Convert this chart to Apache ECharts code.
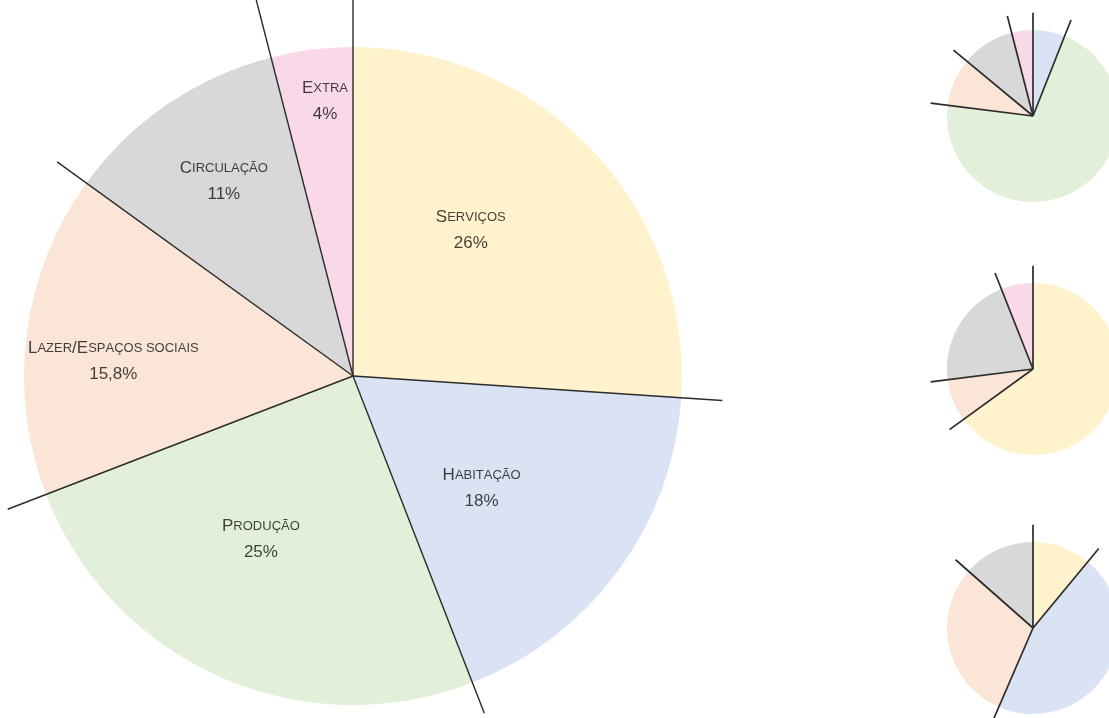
<!DOCTYPE html>
<html>
<head>
<meta charset="utf-8">
<script src="https://cdn.jsdelivr.net/npm/echarts@6/dist/echarts.min.js"></script>
<style>
  html, body { margin: 0; padding: 0; background: #ffffff; }
  #chart { width: 1109px; height: 718px; }
</style>
</head>
<body>
<div id="chart"></div>
<script>
// ---- data ----
const categories = ['Serviços', 'Habitação', 'Produção', 'Lazer/Espaços sociais', 'Circulação', 'Extra'];
const mainValues = [26, 18, 25, 15.8, 11, 4];
const small1Values = [0, 6, 71, 9, 10, 4];
const small2Values = [65, 0, 0, 8, 21, 6];
const small3Values = [11, 45.5, 0, 30, 13.5, 0];

// ---- styles / layout ----
const sliceColors = ['#fff2cc', '#dae3f3', '#e2f0d9', '#fbe5d6', '#d8d8d8', '#f9d8ea'];
const pies = [
  { values: mainValues,   center: [353, 376],  radius: 329, lineExt: [1.145, 1.125, 1.1, 1.125, 1.11, 1.18], lineWidth: 1.4, labels: true },
  { values: small1Values, center: [1033, 116], radius: 86,  lineExt: 1.2, lineWidth: 1.7 },
  { values: small2Values, center: [1033, 369], radius: 86,  lineExt: 1.2, lineWidth: 1.7 },
  { values: small3Values, center: [1033, 628], radius: 86,  lineExt: 1.2, lineWidth: 1.7 }
];
// label placement for main pie: radius factor & angular nudge (degrees) from slice middle
const labelRadius = [0.57, 0.52, 0.57, 0.73, 0.71, 0.84];
const labelAngleShift = [-8, 5, 5.6, -3.8, 0.7, 1.4];

function smallCaps(str) {
  let out = '';
  for (const ch of str) {
    if (ch === ' ') { out += '{s| }'; continue; }
    const isLower = ch !== ch.toUpperCase();
    out += isLower ? '{s|' + ch.toUpperCase() + '}' : '{c|' + ch + '}';
  }
  return out;
}
function pctText(v) { return String(v).replace('.', ',') + '%'; }

const polar = [], radiusAxis = [], angleAxis = [], series = [];
const MAXR = 1.25;
const FONT = 'Liberation Sans, Arial, sans-serif';
const TXT = '#111111';

pies.forEach((pie, pi) => {
  const items = [];
  pie.values.forEach((v, i) => { if (v > 0) items.push({ name: categories[i], value: v, idx: i }); });
  const total = items.reduce((a, b) => a + b.value, 0);

  polar.push({ center: pie.center, radius: pie.radius * MAXR });
  radiusAxis.push({ polarIndex: pi, min: 0, max: MAXR, show: false });
  angleAxis.push({ polarIndex: pi, min: 0, max: total, startAngle: 90, clockwise: true, show: false });

  series.push({
    type: 'pie',
    center: pie.center,
    radius: [0, pie.radius],
    startAngle: 90,
    clockwise: true,
    silent: true,
    animation: false,
    label: { show: false },
    labelLine: { show: false },
    emphasis: { disabled: true },
    itemStyle: { borderWidth: 0 },
    data: items.map(it => ({ name: it.name, value: it.value, itemStyle: { color: sliceColors[it.idx] } }))
  });

  // boundary lines
  const bounds = [];
  let cum = 0;
  items.forEach((it, j) => {
    const ext = Array.isArray(pie.lineExt) ? pie.lineExt[j] : pie.lineExt;
    bounds.push([ext, cum]);
    cum += it.value;
  });
  series.push({
    type: 'custom',
    coordinateSystem: 'polar',
    polarIndex: pi,
    silent: true,
    animation: false,
    clip: false,
    z: 5,
    encode: { radius: 0, angle: 1 },
    data: bounds,
    renderItem: function (params, api) {
      const a = api.value(1);
      const p0 = api.coord([0, a]);
      const p1 = api.coord([api.value(0), a]);
      return {
        type: 'line',
        shape: { x1: p0[0], y1: p0[1], x2: p1[0], y2: p1[1] },
        style: { stroke: '#2b2b2b', lineWidth: pie.lineWidth }
      };
    }
  });

  if (pie.labels) {
    let c2 = 0;
    const labelData = items.map((it, j) => {
      const mid = c2 + it.value / 2;
      c2 += it.value;
      const ang = mid + labelAngleShift[j] / 360 * total;
      return {
        value: [labelRadius[j], ang],
        label: { formatter: smallCaps(it.name) + '\n{p|' + pctText(it.value) + '}' }
      };
    });
    series.push({
      type: 'scatter',
      coordinateSystem: 'polar',
      polarIndex: pi,
      silent: true,
      animation: false,
      z: 6,
      symbol: 'circle',
      symbolSize: 1,
      itemStyle: { color: 'rgba(0,0,0,0)' },
      encode: { radius: 0, angle: 1 },
      data: labelData,
      label: {
        show: true,
        position: 'inside',
        align: 'center',
        verticalAlign: 'middle',
        color: TXT,
        fontFamily: FONT,
        lineHeight: 26,
        rich: {
          c: { fontSize: 17, color: TXT, fontFamily: FONT, lineHeight: 26 },
          s: { fontSize: 13, color: TXT, fontFamily: FONT, lineHeight: 26 },
          p: { fontSize: 17, color: TXT, fontFamily: FONT, lineHeight: 26 }
        }
      }
    });
  }
});

const chart = echarts.init(document.getElementById('chart'), null, { renderer: 'canvas' });
chart.setOption({
  backgroundColor: '#ffffff',
  animation: false,
  polar: polar,
  radiusAxis: radiusAxis,
  angleAxis: angleAxis,
  series: series
});
</script>
</body>
</html>
